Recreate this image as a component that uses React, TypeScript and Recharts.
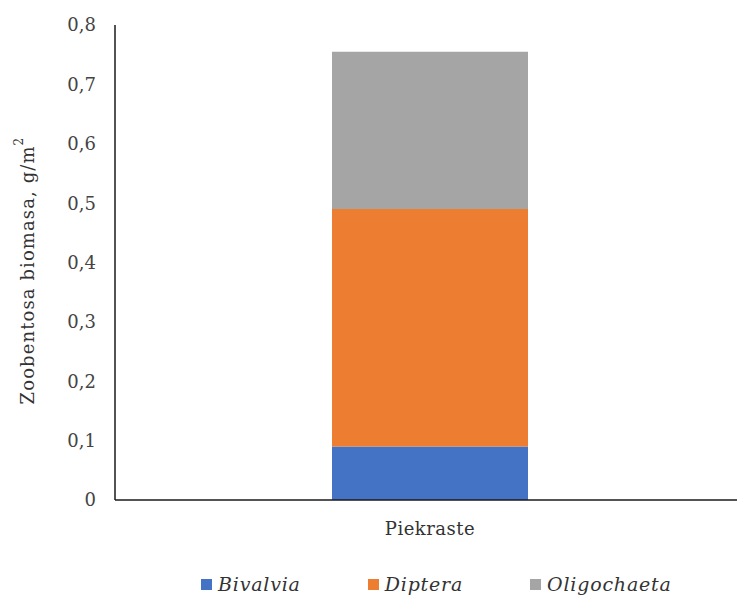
import { BarChart, Bar, XAxis, YAxis, Legend, Label } from 'recharts';

const sites = ['Piekraste'];
const bivalvia = [0.09];
const diptera = [0.4];
const oligochaeta = [0.265];
const yTicks = [0, 0.1, 0.2, 0.3, 0.4, 0.5, 0.6, 0.7, 0.8];

const data = sites.map((site, i) => ({
  site,
  Bivalvia: bivalvia[i],
  Diptera: diptera[i],
  Oligochaeta: oligochaeta[i],
}));

const FONT = 'DejaVu Serif';

const formatTick = (v: number) => (v === 0 ? '0' : v.toFixed(1).replace('.', ','));

function YTitle({ viewBox }: any) {
  const cx = 27;
  const cy = viewBox.y + viewBox.height / 2 + 8;
  return (
    <text
      x={cx}
      y={cy}
      transform={`rotate(-90, ${cx}, ${cy})`}
      textAnchor="middle"
      dominantBaseline="central"
      fontFamily={FONT}
      fontSize={18}
      letterSpacing={1.1}
      fill="#333"
    >
      Zoobentosa biomasa, g/m
      <tspan fontSize={12} dy={-8}>2</tspan>
    </text>
  );
}

function LegendItems({ payload }: any) {
  return (
    <div style={{ display: 'flex', paddingLeft: 201, height: 30, alignItems: 'center' }}>
      {(payload || []).map((p: any) => (
        <div key={p.value} style={{ display: 'flex', alignItems: 'center', marginRight: 67 }}>
          <span style={{ width: 11, height: 11, background: p.color, display: 'inline-block', marginRight: 6 }} />
          <span style={{ fontFamily: FONT, fontStyle: 'italic', fontSize: 19, letterSpacing: 0.8, color: '#333' }}>
            {p.value}
          </span>
        </div>
      ))}
    </div>
  );
}

export default function App() {
  return (
    <div style={{ position: 'absolute', left: 0, top: 0, background: '#fff' }}>
      <BarChart width={737} height={599} data={data} margin={{ top: 25, right: 0, bottom: 0, left: 0 }}>
        <XAxis
          dataKey="site"
          height={69}
          padding={{ left: 8, right: 0 }}
          tickLine={false}
          tickSize={0}
          tickMargin={22}
          axisLine={{ stroke: '#1a1a1a', strokeWidth: 1.5 }}
          tick={{ fontFamily: FONT, fontSize: 18, fill: '#333', letterSpacing: 0.5 }}
        />
        <YAxis
          width={115}
          domain={[0, 0.8]}
          ticks={yTicks}
          tickFormatter={formatTick}
          tickLine={false}
          tickSize={0}
          tickMargin={19}
          axisLine={{ stroke: '#1a1a1a', strokeWidth: 1.5 }}
          tick={{ fontFamily: FONT, fontSize: 18, fill: '#444' }}
        >
          <Label content={<YTitle />} />
        </YAxis>
        <Legend verticalAlign="bottom" height={30} content={<LegendItems />} />
        <Bar dataKey="Bivalvia" stackId="a" fill="#4472C4" barSize={196} isAnimationActive={false} />
        <Bar dataKey="Diptera" stackId="a" fill="#ED7D31" barSize={196} isAnimationActive={false} />
        <Bar dataKey="Oligochaeta" stackId="a" fill="#A5A5A5" barSize={196} isAnimationActive={false} />
      </BarChart>
    </div>
  );
}
